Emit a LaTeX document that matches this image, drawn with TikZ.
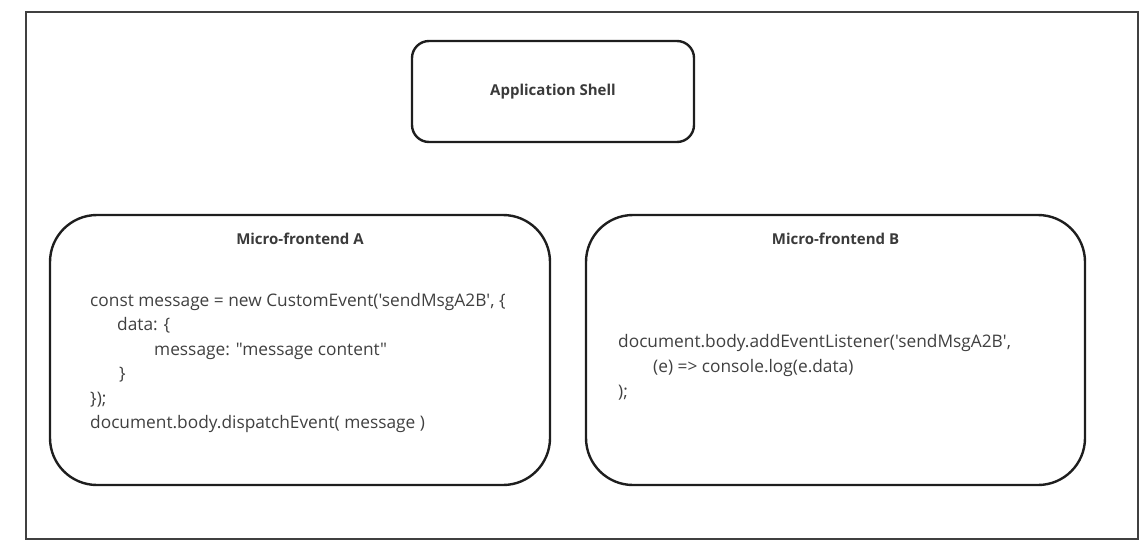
\documentclass[tikz,border=0pt]{standalone}
\usepackage{fontspec}
\setmainfont{Open Sans}[Ligatures=TeXOff]
\definecolor{codegray}{HTML}{404040}
\definecolor{linegray}{HTML}{1E1E1E}
\begin{document}
\begin{tikzpicture}[x=1pt,y=-1pt,
  frame/.style={draw=linegray!85,line width=2pt,inner sep=0pt},
  roundbox/.style={draw=linegray,line width=2.4pt,inner sep=0pt,rounded corners=#1},
  title/.style={font=\fontsize{15}{18}\selectfont\bfseries,text=codegray!90!black,inner sep=0pt,anchor=base},
  code/.style={font=\fontsize{17.3}{20}\selectfont,text=codegray,inner sep=0pt,anchor=base west}]
\useasboundingbox (0,0) rectangle (1148,549);
\node[frame,minimum width=1112pt,minimum height=527pt] (outer) at (582,275.5) {};
\node[roundbox=17pt,minimum width=282pt,minimum height=101pt] (shell) at (553,91.5) {};
\node[title,anchor=center] (shellt) at (shell.center) {Application Shell};
\node[roundbox=47pt,minimum width=500pt,minimum height=270pt] (mfa) at (300,350) {};
\node[roundbox=47pt,minimum width=499pt,minimum height=270pt] (mfb) at (835.5,350) {};
\node[title] (mfat) at (300,244) {Micro-frontend A};
\node[title] (mfbt) at (835.5,244) {Micro-frontend B};
\node[code] (a1) at (90,306) {const message = new CustomEvent('sendMsgA2B', \{};
\node[code] (a2) at (117,330.5) {data: \{};
\node[code] (a3) at (154,355) {message: "message content"};
\node[code] (a4) at (119,379.5) {\}};
\node[code] (a5) at (90,404) {\});};
\node[code] (a6) at (90,428.5) {document.body.dispatchEvent( message )};
\node[code] (b1) at (618,347) {document.body.addEventListener('sendMsgA2B',};
\node[code] (b2) at (653,372) {(e) => console.log(e.data)};
\node[code] (b3) at (618,397) {);};
\end{tikzpicture}
\end{document}
